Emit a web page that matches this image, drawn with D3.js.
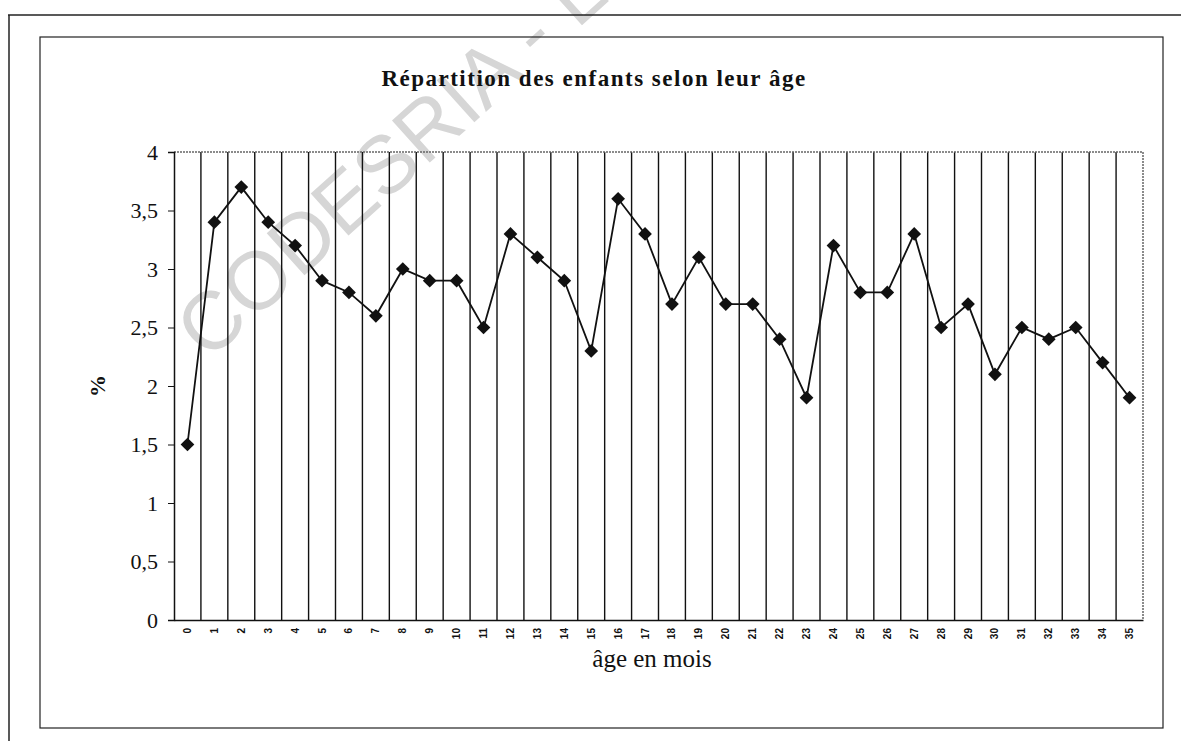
<!DOCTYPE html>
<html>
<head>
<meta charset="utf-8">
<script src="https://cdn.jsdelivr.net/npm/d3@7"></script>
<style>
  body { margin: 0; background: #fff; }
  svg text { font-family: "Liberation Serif", "DejaVu Serif", serif; }
</style>
</head>
<body>
<div id="chart"></div>
<script>
// data
var ages = d3.range(0, 36).map(String);
var pct = [1.5, 3.4, 3.7, 3.4, 3.2, 2.9, 2.8, 2.6, 3.0, 2.9, 2.9, 2.5,
           3.3, 3.1, 2.9, 2.3, 3.6, 3.3, 2.7, 3.1, 2.7, 2.7, 2.4, 1.9,
           3.2, 2.8, 2.8, 3.3, 2.5, 2.7, 2.1, 2.5, 2.4, 2.5, 2.2, 1.9];
var yTicks = [0, 0.5, 1, 1.5, 2, 2.5, 3, 3.5, 4];

var W = 1181, H = 741;
var plot = {left: 174, right: 1143, top: 152, bottom: 620};

var svg = d3.select("#chart").append("svg")
    .attr("width", W)
    .attr("height", H);

// watermark
svg.append("text")
    .attr("transform", "translate(208,362) rotate(-42)")
    .style("font-family", "'Liberation Sans', Arial, sans-serif")
    .attr("font-size", 82)
    .attr("fill", "#d6d6d6")
    .text("CODESRIA - LIBRARY");

// page frame
svg.append("line").attr("x1", 8).attr("x2", W).attr("y1", 15).attr("y2", 15)
    .attr("stroke", "#222").attr("stroke-width", 1.5);
svg.append("line").attr("x1", 9).attr("x2", 9).attr("y1", 15).attr("y2", H)
    .attr("stroke", "#222").attr("stroke-width", 1.5);

// chart area frame
svg.append("rect")
    .attr("x", 40).attr("y", 37)
    .attr("width", 1123).attr("height", 691)
    .attr("fill", "none")
    .attr("stroke", "#222")
    .attr("stroke-width", 1.2);

var x = d3.scaleBand().domain(ages).range([plot.left, plot.right]);
var y = d3.scaleLinear().domain([0, 4]).range([plot.bottom, plot.top]);

// vertical gridlines between categories
svg.append("g")
    .selectAll("line")
    .data(ages.slice(1))
    .enter().append("line")
    .attr("x1", function(d) { return x(d); })
    .attr("x2", function(d) { return x(d); })
    .attr("y1", plot.top)
    .attr("y2", plot.bottom)
    .attr("stroke", "#111")
    .attr("stroke-width", 1.4);

// top and right border of the plot (dotted grey)
svg.append("path")
    .attr("d", "M" + plot.left + "," + plot.top + "H" + plot.right + "V" + plot.bottom)
    .attr("fill", "none")
    .attr("stroke", "#666")
    .attr("stroke-width", 1.5)
    .attr("stroke-dasharray", "2,1");

// Y axis
var yAxis = svg.append("g")
    .attr("transform", "translate(" + plot.left + ",0)")
    .call(d3.axisLeft(y)
        .tickValues(yTicks)
        .tickSize(6)
        .tickPadding(10)
        .tickFormat(function(d) { return String(d).replace(".", ","); }));
yAxis.select(".domain").attr("stroke", "#111").attr("stroke-width", 1.5);
yAxis.selectAll(".tick line").attr("stroke", "#111");
yAxis.selectAll("text")
    .attr("font-size", 22)
    .attr("fill", "#111")
    .style("font-family", "'Liberation Serif', serif");

// X axis
var xAxis = svg.append("g")
    .attr("transform", "translate(0," + plot.bottom + ")")
    .call(d3.axisBottom(x).tickSize(0).tickPadding(0));
xAxis.select(".domain").attr("stroke", "#111").attr("stroke-width", 1.5);
xAxis.selectAll("text")
    .attr("transform", "rotate(-90)")
    .attr("x", -8)
    .attr("y", 0)
    .attr("dy", "0.35em")
    .attr("text-anchor", "end")
    .attr("font-size", 10)
    .attr("font-weight", "bold")
    .attr("fill", "#111")
    .style("font-family", "'Liberation Sans', Arial, sans-serif");

// line
var line = d3.line()
    .x(function(d, i) { return x(ages[i]) + x.bandwidth() / 2; })
    .y(function(d) { return y(d); });

svg.append("path")
    .datum(pct)
    .attr("d", line)
    .attr("fill", "none")
    .attr("stroke", "#111")
    .attr("stroke-width", 1.8);

// diamond markers
svg.selectAll(".pt")
    .data(pct)
    .enter().append("path")
    .attr("class", "pt")
    .attr("transform", function(d, i) {
        return "translate(" + (x(ages[i]) + x.bandwidth() / 2) + "," + y(d) + ")";
    })
    .attr("d", d3.symbol().type(d3.symbolDiamond2).size(120))
    .attr("fill", "#111");

// title
svg.append("text")
    .attr("x", 594).attr("y", 86)
    .attr("text-anchor", "middle")
    .attr("font-size", 23)
    .attr("font-weight", "bold")
    .attr("letter-spacing", 1.5)
    .attr("fill", "#111")
    .text("Répartition des enfants selon leur âge");

// axis titles
svg.append("text")
    .attr("transform", "translate(105,386) rotate(-90)")
    .attr("text-anchor", "middle")
    .attr("font-size", 22)
    .attr("font-weight", "bold")
    .attr("fill", "#111")
    .text("%");

svg.append("text")
    .attr("x", 652).attr("y", 667)
    .attr("text-anchor", "middle")
    .attr("font-size", 25)
    .attr("fill", "#111")
    .text("âge en mois");
</script>
</body>
</html>
